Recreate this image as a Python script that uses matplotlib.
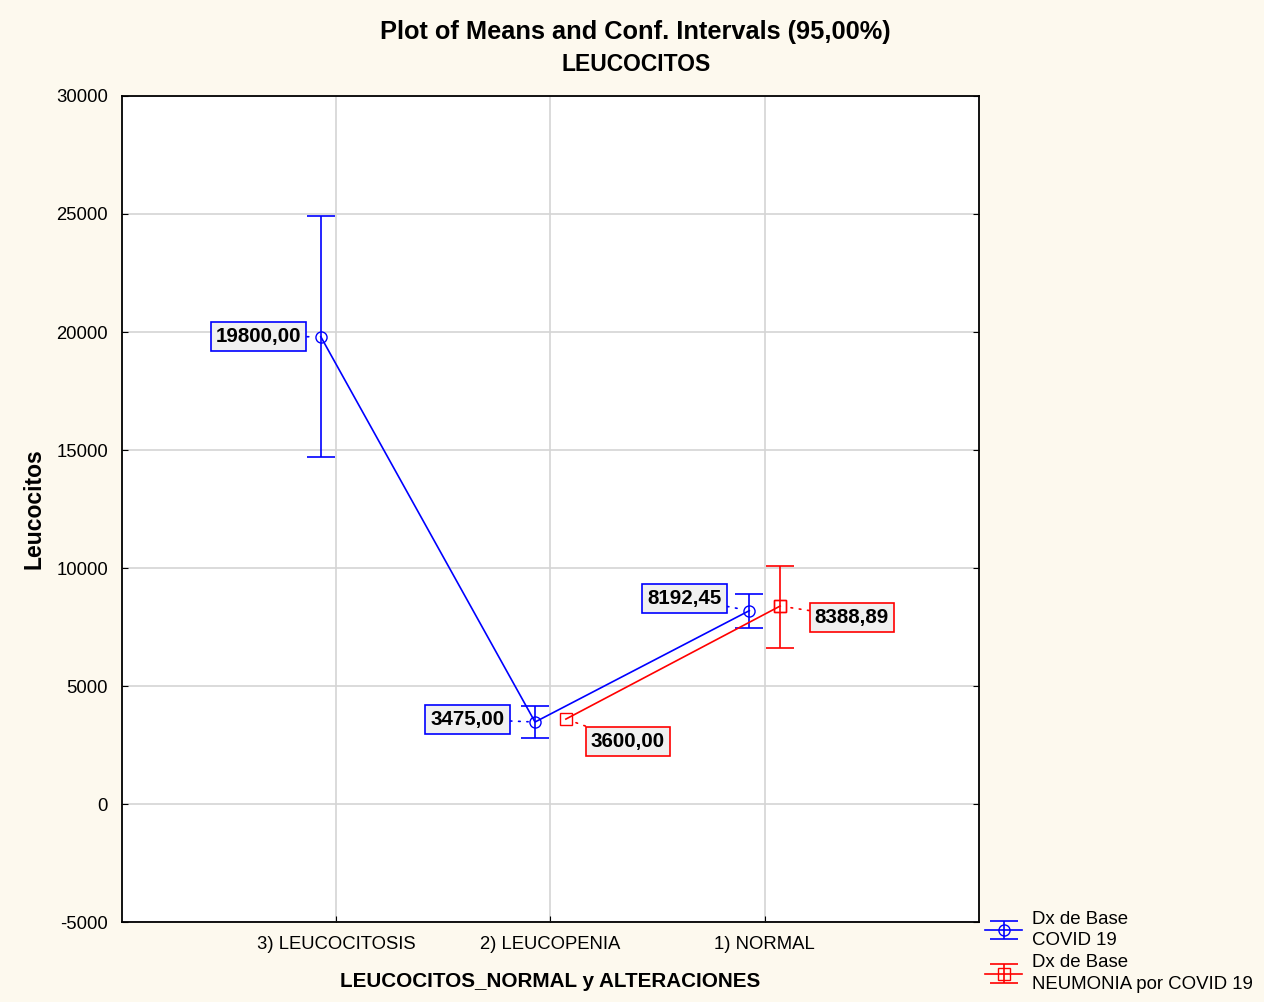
import matplotlib.pyplot as plt

categories = ['3) LEUCOCITOSIS', '2) LEUCOPENIA', '1) NORMAL']

covid_x = [0, 1, 2]
covid_mean = [19800.00, 3475.00, 8192.45]
covid_low = [14700, 2800, 7460]
covid_high = [24900, 4150, 8900]
covid_labels = ['19800,00', '3475,00', '8192,45']

neu_x = [1, 2]
neu_mean = [3600.00, 8388.89]
neu_labels = ['3600,00', '8388,89']
# only the NORMAL group has a confidence interval
neu_ci_x = [2]
neu_ci_mean = [8388.89]
neu_ci_low = [6610]
neu_ci_high = [10090]

yticks = [-5000, 0, 5000, 10000, 15000, 20000, 25000, 30000]


def main():
    plt.rcParams['font.family'] = ['Liberation Sans', 'DejaVu Sans']
    fig = plt.figure(figsize=(12.64, 10.02), dpi=100, facecolor='#fdf9ee')
    ax = fig.add_axes([0.0965, 0.0798, 0.678, 0.8244])
    ax.set_facecolor('white')

    shift = 0.072
    bx = [x - shift for x in covid_x]
    rx = [x + shift for x in neu_x]
    rcx = [x + shift for x in neu_ci_x]

    eb1 = ax.errorbar(bx, covid_mean,
                      yerr=[[m - l for m, l in zip(covid_mean, covid_low)],
                            [h - m for m, h in zip(covid_mean, covid_high)]],
                      color='blue', lw=1.2, marker='o', ms=8, mfc='none', mec='blue',
                      capsize=10, capthick=1.2, zorder=3,
                      label='Dx de Base\nCOVID 19')
    ax.plot(rx, neu_mean, color='red', lw=1.2, marker='s', ms=8, mfc='none',
            mec='red', zorder=3)
    eb2 = ax.errorbar(rcx, neu_ci_mean,
                      yerr=[[m - l for m, l in zip(neu_ci_mean, neu_ci_low)],
                            [h - m for m, h in zip(neu_ci_mean, neu_ci_high)]],
                      color='red', lw=1.2, marker='s', ms=8, mfc='none', mec='red',
                      capsize=10, capthick=1.2, zorder=3,
                      label='Dx de Base\nNEUMONIA por COVID 19')

    box_kw = dict(fontsize=14.8, fontweight='bold', va='center')
    dots = (0, (1, 4))
    blue_off = [(-14, 0), (-22, 2), (-20, 9)]
    for x, y, t, off in zip(bx, covid_mean, covid_labels, blue_off):
        ax.annotate(t, (x, y), xytext=off, textcoords='offset points', ha='right',
                    bbox=dict(boxstyle='square,pad=0.25', fc='#f0f0f0', ec='blue', lw=1.2),
                    arrowprops=dict(arrowstyle='-', ls=dots, color='blue', lw=1.2,
                                    shrinkA=0, shrinkB=5),
                    **box_kw)
    red_off = [(18, -16), (25, -8)]
    for x, y, t, off in zip(rx, neu_mean, neu_labels, red_off):
        ax.annotate(t, (x, y), xytext=off, textcoords='offset points', ha='left',
                    bbox=dict(boxstyle='square,pad=0.25', fc='#f0f0f0', ec='red', lw=1.2),
                    arrowprops=dict(arrowstyle='-', ls=dots, color='red', lw=1.2,
                                    shrinkA=0, shrinkB=5),
                    **box_kw)

    ax.set_xlim(-1, 3)
    ax.set_ylim(-5000, 30000)
    ax.set_xticks(range(len(categories)))
    ax.set_xticklabels(categories, fontsize=13.3)
    ax.set_yticks(yticks)
    ax.set_yticklabels([str(v) for v in yticks], fontsize=13.3)
    ax.grid(True, color='#d4d4d4', lw=1.2)
    ax.set_axisbelow(True)
    ax.tick_params(direction='in', length=4, top=False, right=True, pad=10)
    for s in ax.spines.values():
        s.set_linewidth(1.3)

    ax.set_xlabel('LEUCOCITOS_NORMAL y ALTERACIONES', fontsize=14.9, fontweight='bold', labelpad=14)
    ax.set_ylabel('Leucocitos', fontsize=16.5, fontweight='bold', labelpad=8)
    fig.text(0.503, 0.968, 'Plot of Means and Conf. Intervals (95,00%)', fontsize=18.3,
             fontweight='bold', ha='center', va='center')
    fig.text(0.503, 0.936, 'LEUCOCITOS', fontsize=16.5, fontweight='bold',
             ha='center', va='center')

    leg = fig.legend(handles=[eb1, eb2], loc='lower left', bbox_to_anchor=(0.769, -0.004),
                     frameon=False, fontsize=13.4, handlelength=2.0, labelspacing=0.28,
                     handletextpad=0.5, borderpad=0.2)
    for t in leg.get_texts():
        t.set_linespacing(1.35)

    fig.savefig('out.png', dpi=100, facecolor=fig.get_facecolor())


if __name__ == '__main__':
    main()
